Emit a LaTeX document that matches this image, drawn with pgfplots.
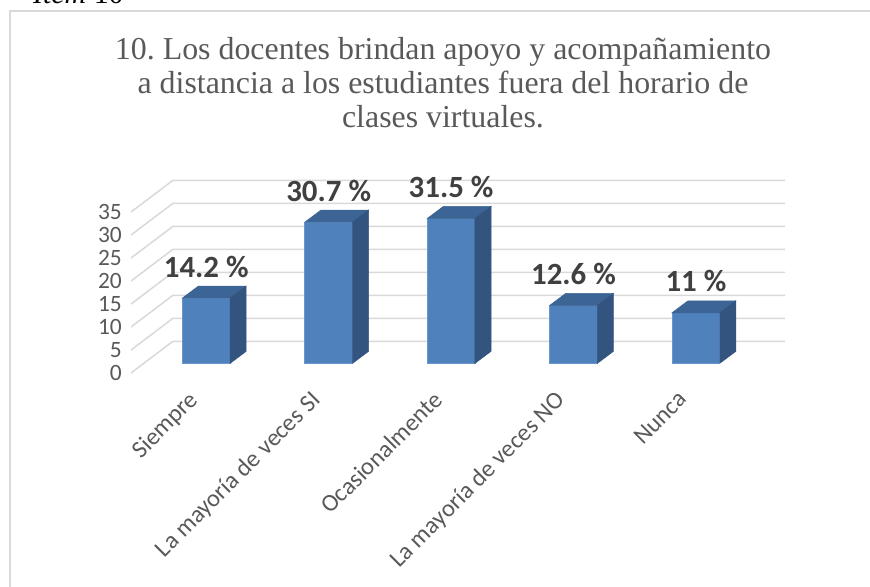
\documentclass[border=0pt]{standalone}
\usepackage{fontspec}
\setmainfont{Liberation Serif}
\newfontfamily\carlito{Carlito}
\usepackage{pgfplots}
\usepackage{pgfplotstable}
\pgfplotsset{compat=1.18}
\frenchspacing
\definecolor{titlegray}{HTML}{595959}
\definecolor{labelgray}{HTML}{404040}
\definecolor{gridgray}{HTML}{D9D9D9}
\definecolor{barfront}{HTML}{4F81BD}
\definecolor{bartop}{HTML}{3C6494}
\definecolor{barside}{HTML}{33547F}
\definecolor{baredge}{HTML}{6B96CB}

\pgfplotstableread{
idx v
0 14.2
1 30.7
2 31.5
3 12.6
4 11
}\datatable

% faces of one bar: a = x offset, b = depth rise, h = 1 on the top edge
\pgfplotstableread{
a b h
0 0 0
0.39 0 0
0.39 0 1
0 0 1
}\frontface
\pgfplotstableread{
a b h
0 0 1
0.39 0 1
0.521 2.61 1
0.131 2.61 1
}\topface
\pgfplotstableread{
a b h
0.39 0 0
0.521 2.61 0
0.521 2.61 1
0.39 0 1
}\sideface
% one gridline: left wall diagonal, then back wall
\pgfplotstableread{
x y
0 0
0.343 6.9
5.343 6.9
}\gridpath

\begin{document}
\begin{tikzpicture}[x=1bp,y=1bp]
\useasboundingbox (0,0) rectangle (870,-587);
\clip (0,0) rectangle (870,-587);
\draw[gridgray, line width=1.5bp] (10,-11) rectangle (900,-620);
\node[anchor=base west, inner sep=0, font=\fontsize{30}{30}\selectfont] at (33,-4) {\textit{Item} 10};
\begin{scope}[every node/.style={anchor=base, inner sep=0, text=titlegray, font=\fontsize{32}{32}\selectfont}]
\node at (443,-60) {10. Los docentes brindan apoyo y acompañamiento};
\node at (443,-94) {a distancia a los estudiantes fuera del horario de};
\node at (443,-128) {clases virtuales.};
\end{scope}
\begin{axis}[
  at={(131bp,-373bp)}, anchor=south west,
  scale only axis, width=654bp, height=192.7bp,
  xmin=0, xmax=5.343, ymin=0, ymax=41.9,
  clip=false,
  axis line style={draw=none}, tick style={draw=none}, major tick length=0pt,
  ytick={0,5,...,35},
  xtick={0.325,1.325,2.325,3.325,4.325},
  xticklabels={Siempre, La mayoría de veces SI, Ocasionalmente, La mayoría de veces NO, Nunca},
  /pgf/number format/assume math mode=true,
  yticklabel style={font=\fontsize{23.5}{23.5}\selectfont\carlito, text=titlegray, anchor=east, inner sep=0pt, xshift=-9bp},
  xticklabel style={font=\fontsize{24.5}{24.5}\selectfont\carlito, text=titlegray, rotate=45, anchor=north east, inner sep=0pt, yshift=-23bp},
]
\pgfplotsinvokeforeach{0,5,...,35}{
  \addplot[gridgray, line width=1.5bp, mark=none] table[x=x, y expr=\thisrow{y}+#1] {\gridpath};
}
\pgfplotsinvokeforeach{0,...,4}{
  \pgfplotstablegetelem{#1}{v}\of\datatable
  \expandafter\let\csname barv#1\endcsname\pgfplotsretval
  \addplot[fill=barfront, draw=baredge, line width=0.8bp, mark=none]
    table[x expr=#1+0.42+\thisrow{a}, y expr=2.1+\thisrow{b}+\thisrow{h}*\csname barv#1\endcsname] {\frontface} -- cycle;
  \addplot[fill=bartop, draw=bartop, line width=0.5bp, mark=none]
    table[x expr=#1+0.42+\thisrow{a}, y expr=2.1+\thisrow{b}+\thisrow{h}*\csname barv#1\endcsname] {\topface} -- cycle;
  \addplot[fill=barside, draw=barside, line width=0.5bp, mark=none]
    table[x expr=#1+0.42+\thisrow{a}, y expr=2.1+\thisrow{b}+\thisrow{h}*\csname barv#1\endcsname] {\sideface} -- cycle;
}
\addplot[draw=none, mark=none, nodes near coords={\pgfplotspointmeta~\%},
  point meta=explicit symbolic,
  nodes near coords style={anchor=base, inner sep=0pt, text=labelgray, font=\fontsize{31}{31}\selectfont\carlito\bfseries}]
  table[x expr=\thisrow{idx}+0.615, y expr=\thisrow{v}+6.67, meta=v] {\datatable};
\end{axis}
\end{tikzpicture}
\end{document}
